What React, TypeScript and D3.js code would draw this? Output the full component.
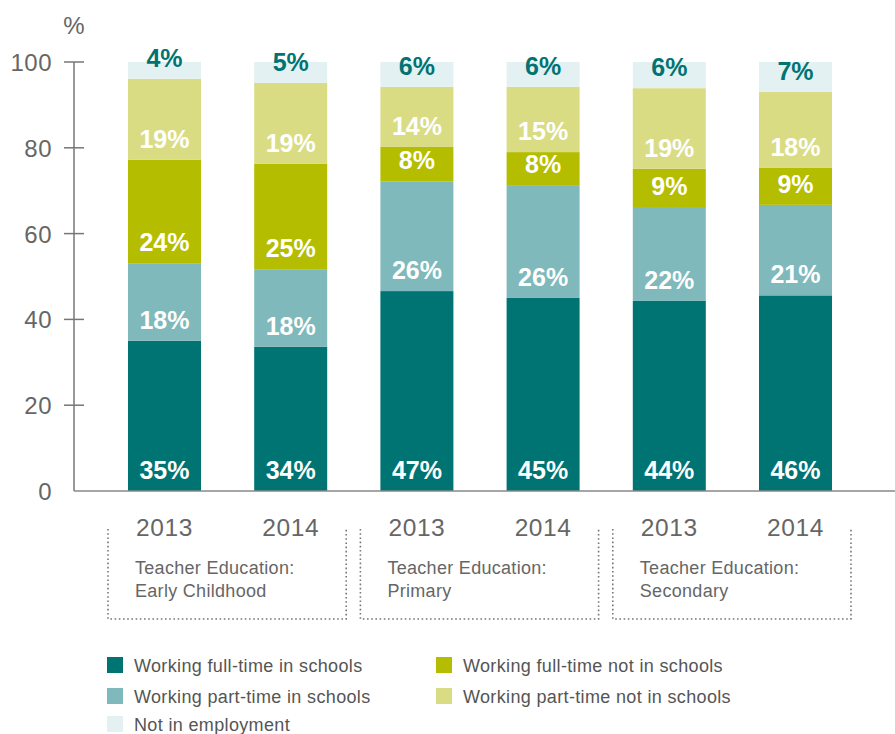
import React from "react";
import * as d3 from "d3";

const categories = ["EC-2013", "EC-2014", "PR-2013", "PR-2014", "SE-2013", "SE-2014"];
const years = ["2013", "2014", "2013", "2014", "2013", "2014"];
const groups = [
  ["Teacher Education:", "Early Childhood"],
  ["Teacher Education:", "Primary"],
  ["Teacher Education:", "Secondary"],
];
const fullTimeSchools = [35.0, 33.6, 46.6, 45.0, 44.3, 45.6];
const partTimeSchools = [18.1, 18.1, 25.6, 26.3, 21.9, 21.1];
const fullTimeNot = [24.1, 24.6, 8.0, 7.7, 8.9, 8.6];
const partTimeNot = [18.9, 18.8, 14.0, 15.2, 18.8, 17.7];
const notEmployed = [3.9, 4.9, 5.8, 5.8, 6.1, 7.0];
const yTicks = [0, 20, 40, 60, 80, 100];

const seriesNames = [
  "Working full-time in schools",
  "Working part-time in schools",
  "Working full-time not in schools",
  "Working part-time not in schools",
  "Not in employment",
];
const seriesKeys = ["fts", "pts", "ftn", "ptn", "ne"];
const colors = ["#007373", "#80B9BB", "#B5BD00", "#DADC84", "#E4F1F2"];

const FONT = "'Liberation Sans', Arial, Helvetica, sans-serif";

export default function App() {
  const rows = categories.map((c, i) => ({
    cat: c,
    fts: fullTimeSchools[i],
    pts: partTimeSchools[i],
    ftn: fullTimeNot[i],
    ptn: partTimeNot[i],
    ne: notEmployed[i],
  }));
  const stack = d3.stack<any>().keys(seriesKeys);
  const stacked = stack(rows);

  const y = d3.scaleLinear().domain([0, 100]).range([491, 62]);
  const x = d3
    .scaleBand<string>()
    .domain(categories)
    .range([74.8, 885.2])
    .paddingInner(0.4216)
    .paddingOuter(0.4216);
  const bw = x.bandwidth();

  const legendItems = [
    { i: 0, x: 107, y: 665 },
    { i: 2, x: 436, y: 665 },
    { i: 1, x: 107, y: 696 },
    { i: 3, x: 436, y: 696 },
    { i: 4, x: 107, y: 724 },
  ];

  return (
    <svg width={895} height={734} style={{ position: "absolute", left: 0, top: 0 }} fontFamily={FONT}>
      {/* bars */}
      {stacked.map((s, si) =>
        s.map((d, di) => (
          <rect
            key={`${si}-${di}`}
            x={x(categories[di])}
            y={y(d[1])}
            width={bw}
            height={y(d[0]) - y(d[1])}
            fill={colors[si]}
          />
        ))
      )}
      {/* labels */}
      {stacked.map((s, si) =>
        s.map((d, di) => (
          <text
            key={`l${si}-${di}`}
            x={(x(categories[di]) as number) + bw / 2}
            y={y(d[0]) - 12}
            textAnchor="middle"
            fontSize={25}
            fontWeight="bold"
            fill={si === 4 ? "#007373" : "#ffffff"}
          >
            {Math.round(d[1] - d[0])}%
          </text>
        ))
      )}
      {/* y axis */}
      <line x1={74} x2={74} y1={y(100)} y2={y(0)} stroke="#777" strokeWidth={1.5} />
      <line x1={74} x2={895} y1={y(0)} y2={y(0)} stroke="#888" strokeWidth={1.5} />
      {yTicks.map((t) => (
        <g key={t}>
          {t > 0 && <line x1={64} x2={84} y1={y(t)} y2={y(t)} stroke="#777" strokeWidth={1.5} />}
          <text x={52} y={y(t) + 9} textAnchor="end" fontSize={24} fill="#666" letterSpacing={0.5}>
            {t}
          </text>
        </g>
      ))}
      <text x={74} y={34} textAnchor="middle" fontSize={24} fill="#666">
        %
      </text>
      {/* year labels */}
      {categories.map((c, i) => (
        <text
          key={c}
          x={(x(c) as number) + bw / 2}
          y={536}
          textAnchor="middle"
          fontSize={24.5}
          fill="#666"
          letterSpacing={0.6}
        >
          {years[i]}
        </text>
      ))}
      {/* group brackets */}
      {groups.map((g, gi) => {
        const x0 = (x(categories[gi * 2]) as number) - 20;
        const x1 = (x(categories[gi * 2 + 1]) as number) + bw + 19;
        return (
          <g key={gi}>
            <path
              d={`M${x0},529 L${x0},619 L${x1},619 L${x1},529`}
              fill="none"
              stroke="#777"
              strokeWidth={1.6}
              strokeDasharray="1.6 2.6"
            />
            <text x={x0 + 27} y={574} fontSize={18} fill="#666" letterSpacing={0.3}>
              {g[0]}
            </text>
            <text x={x0 + 27} y={597} fontSize={18} fill="#666" letterSpacing={0.3}>
              {g[1]}
            </text>
          </g>
        );
      })}
      {/* legend */}
      {legendItems.map((l) => (
        <g key={l.i}>
          <rect x={l.x} y={l.y - 8} width={16} height={16} fill={colors[l.i]} />
          <text x={l.x + 27} y={l.y + 6.5} fontSize={18} fill="#555" letterSpacing={0.35}>
            {seriesNames[l.i]}
          </text>
        </g>
      ))}
    </svg>
  );
}
